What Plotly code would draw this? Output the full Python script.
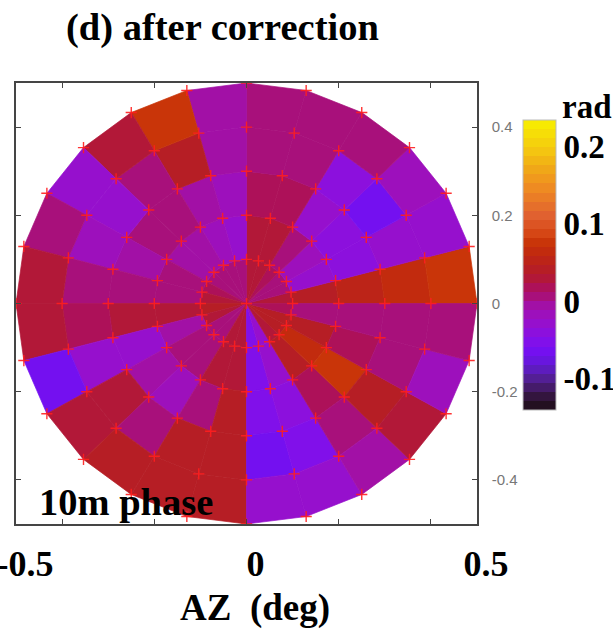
import numpy as np
import plotly.graph_objects as go
from plotly.colors import sample_colorscale

# ---- beam-map geometry: concentric rings (deg) and 15-degree sectors ----
ring_edges = [0.0, 0.1, 0.2, 0.3, 0.4, 0.5]
sector_deg = 15
n_sectors = 24

# ---- aperture phase after correction (rad); rows = rings (inner -> outer),
#      columns = sectors counter-clockwise from +AZ ----
phase_ring0 = [0.030, 0.000, 0.010, 0.020, 0.025, 0.030, 0.000, 0.000, 0.000, 0.010, 0.020, 0.030,
               0.035, 0.025, 0.010, 0.005, 0.025, 0.025, -0.050, -0.025, 0.030, 0.045, 0.035, 0.020]
phase_ring1 = [0.040, -0.025, -0.020, 0.010, 0.025, 0.025, -0.025, -0.020, -0.005, -0.005, 0.005, 0.005,
               0.025, -0.010, 0.000, 0.000, 0.025, 0.030, -0.050, -0.030, 0.040, 0.065, 0.035, 0.010]
phase_ring2 = [0.050, -0.040, -0.040, -0.030, 0.020, 0.020, -0.015, -0.010, 0.008, 0.000, -0.010, 0.005,
               0.025, -0.030, -0.005, -0.020, 0.010, 0.035, -0.055, -0.045, 0.020, 0.070, 0.020, 0.000]
phase_ring3 = [0.065, -0.030, -0.060, -0.045, 0.005, 0.010, -0.010, 0.040, 0.008, -0.025, -0.015, 0.010,
               0.015, -0.030, 0.030, 0.000, 0.035, 0.040, -0.060, -0.050, 0.000, 0.045, 0.010, 0.000]
phase_ring4 = [0.075, -0.030, -0.020, 0.005, 0.010, 0.010, -0.005, 0.075, 0.030, -0.025, 0.000, 0.025,
               0.025, -0.060, 0.025, 0.035, 0.040, 0.045, -0.035, -0.025, -0.010, 0.025, -0.020, 0.005]
phase = [phase_ring0, phase_ring1, phase_ring2, phase_ring3, phase_ring4]

# ---- colour scale ----
cmin, cmax = -0.141, 0.234
cbar_ticks = [0.2, 0.1, 0.0, -0.1]
cbar_text = ["0.2", "0.1", "0", "-0.1"]
axis_ticks = [-0.4, -0.2, 0.0, 0.2, 0.4]
el_text = ["-0.4", "-0.2", "0", "0.2", "0.4"]
az_ticks = [-0.5, 0.0, 0.5]
az_text = ["-0.5", "0", "0.5"]

stops = [(-0.141, "#1c0c14"), (-0.125, "#301438"), (-0.110, "#481c70"), (-0.095, "#5820a8"),
         (-0.080, "#6418d8"), (-0.065, "#7410f0"), (-0.050, "#8410e8"), (-0.035, "#9210d4"),
         (-0.020, "#9c10c0"), (-0.005, "#a210a4"), (0.005, "#a8107c"), (0.015, "#ac1060"),
         (0.025, "#b01640"), (0.035, "#b41c2c"), (0.045, "#b82020"), (0.060, "#c02810"),
         (0.075, "#c83408"), (0.090, "#d84a18"), (0.110, "#e06030"), (0.130, "#e87828"),
         (0.150, "#f09020"), (0.170, "#f0a818"), (0.195, "#f4c810"), (0.234, "#f8f000")]


def hex_rgb(h):
    h = h.lstrip("#")
    return "rgb(%d,%d,%d)" % (int(h[0:2], 16), int(h[2:4], 16), int(h[4:6], 16))


base_scale = [[(v - cmin) / (cmax - cmin), hex_rgb(c)] for v, c in stops]
n_bands = 32
band_colors = sample_colorscale(base_scale, [(i + 0.5) / n_bands for i in range(n_bands)])
stepped_scale = []
for i, c in enumerate(band_colors):
    stepped_scale += [[i / n_bands, c], [(i + 1) / n_bands, c]]


def band_color(v):
    t = (v - cmin) / (cmax - cmin)
    i = int(np.clip(np.floor(t * n_bands), 0, n_bands - 1))
    return band_colors[i]


fig = go.Figure()

# flat-shaded cells between neighbouring rings and spokes
for k in range(len(ring_edges) - 1):
    r0, r1 = ring_edges[k], ring_edges[k + 1]
    for j in range(n_sectors):
        a0 = np.deg2rad(j * sector_deg)
        a1 = np.deg2rad((j + 1) * sector_deg)
        rr = [r0, r1, r1, r0, r0]
        aa = [a0, a0, a1, a1, a0]
        xs = [r * np.cos(a) for r, a in zip(rr, aa)]
        ys = [r * np.sin(a) for r, a in zip(rr, aa)]
        col = band_color(phase[k][j])
        fig.add_trace(go.Scatter(x=xs, y=ys, mode="lines", fill="toself",
                                 fillcolor=col, line=dict(color=col, width=0.7),
                                 hoverinfo="skip", showlegend=False))

# measurement points
px, py = [0.0], [0.0]
for r in ring_edges[1:]:
    for j in range(n_sectors):
        a = np.deg2rad(j * sector_deg)
        px.append(r * np.cos(a))
        py.append(r * np.sin(a))
fig.add_trace(go.Scatter(x=px, y=py, mode="markers",
                         marker=dict(symbol="cross-thin", size=8,
                                     line=dict(color="rgba(255,30,30,0.9)", width=1.4)),
                         hoverinfo="skip", showlegend=False))

# colour bar carrier
fig.add_trace(go.Scatter(x=[None, None], y=[None, None], xaxis="x2", mode="markers",
                         marker=dict(color=[cmin, cmax], colorscale=stepped_scale,
                                     cmin=cmin, cmax=cmax, size=0, showscale=True,
                                     colorbar=dict(
                                         x=(523 - 16) / 461, xanchor="left", xpad=0,
                                         y=(524 - 265) / 441, yanchor="middle", ypad=0,
                                         thickness=33, thicknessmode="pixels",
                                         len=290, lenmode="pixels",
                                         outlinewidth=1, outlinecolor="#bbbbbb",
                                         tickmode="array", tickvals=cbar_ticks, ticktext=cbar_text,
                                         ticks="", ticklen=2,
                                         tickfont=dict(family="Liberation Serif", size=33,
                                                       color="black", weight="bold"))),
                         hoverinfo="skip", showlegend=False))

serif_bold = dict(family="Liberation Serif", size=37, color="black", weight="bold")
frame = "#454545"

fig.update_layout(
    width=613, height=630,
    margin=dict(l=16, r=136, t=83, b=106, autoexpand=False),
    paper_bgcolor="white", plot_bgcolor="white",
    xaxis=dict(range=[-0.5, 0.5], showgrid=False, zeroline=False, automargin=False,
               showline=True, linecolor=frame, linewidth=1.5, mirror="ticks",
               ticks="inside", ticklen=5, tickcolor=frame, tickwidth=1,
               tickmode="array", tickvals=axis_ticks, showticklabels=False),
    xaxis2=dict(range=[-0.5, 0.5], overlaying="x", anchor="y", side="bottom",
                showgrid=False, zeroline=False, showline=False, ticks="", automargin=False,
                tickmode="array", tickvals=az_ticks, ticktext=az_text,
                tickfont=dict(family="Liberation Serif", size=36, color="black", weight="bold"),
                ticklabelstandoff=15, ticklabelshift=9, ticklabeloverflow="allow"),
    yaxis=dict(range=[-0.5, 0.5], side="right", showgrid=False, zeroline=False, automargin=False,
               showline=True, linecolor=frame, linewidth=1.5, mirror="ticks",
               ticks="inside", ticklen=5, tickcolor=frame, tickwidth=1,
               tickmode="array", tickvals=axis_ticks, ticktext=el_text,
               tickfont=dict(family="Liberation Sans", size=15, color="#777777"),
               ticklabelstandoff=10),
    annotations=[
        dict(text="(d) after correction", xref="paper", yref="paper",
             x=(222 - 16) / 461, y=(524 - 28) / 441, xanchor="center", yanchor="middle",
             showarrow=False, font=dict(family="Liberation Serif", size=38.5,
                                         color="black", weight="bold")),
        dict(text="10m phase", xref="paper", yref="paper",
             x=(126 - 16) / 461, y=(524 - 502) / 441, xanchor="center", yanchor="middle",
             showarrow=False, font=dict(family="Liberation Serif", size=38.5,
                                         color="black", weight="bold")),
        dict(text="AZ\u00a0\u00a0(deg)", xref="paper", yref="paper",
             x=(255 - 16) / 461, y=(524 - 608) / 441, xanchor="center", yanchor="middle",
             showarrow=False, font=serif_bold),
        dict(text="rad", xref="paper", yref="paper",
             x=(587 - 16) / 461, y=(524 - 107) / 441, xanchor="center", yanchor="middle",
             showarrow=False, font=dict(family="Liberation Serif", size=33,
                                         color="black", weight="bold")),
    ],
)

fig.write_html("out.html")
